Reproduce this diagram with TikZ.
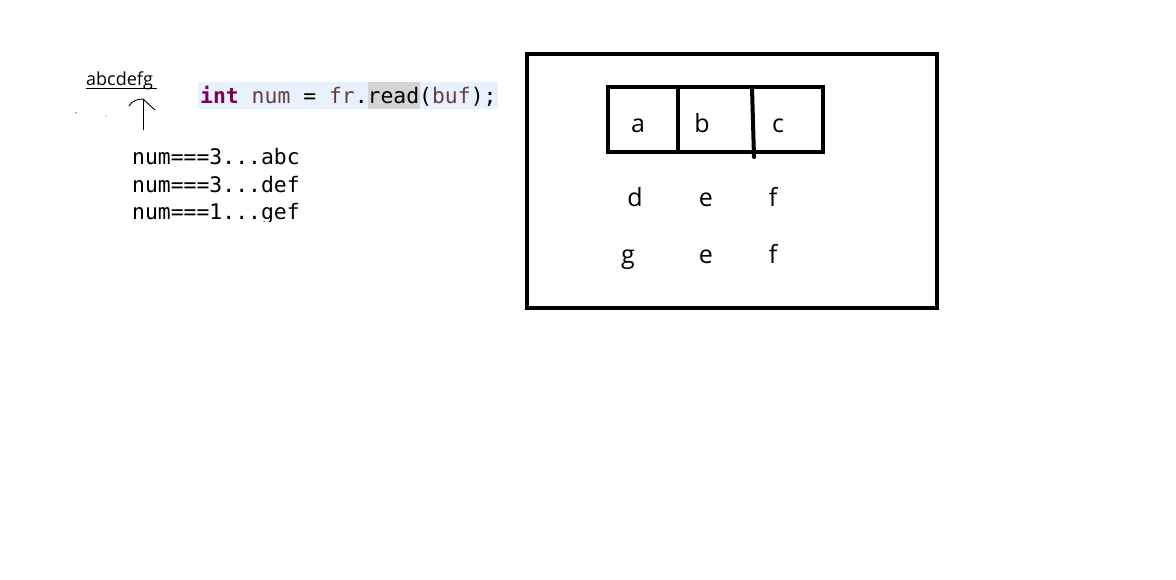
\documentclass[tikz,border=0pt]{standalone}
\usepackage{fontspec}
\setmainfont{Open Sans}
\newfontfamily\codefont{DejaVu Sans Mono}
\definecolor{kw}{HTML}{7F0055}
\definecolor{var}{HTML}{6A3E3E}
\definecolor{codebg}{HTML}{E8F2FE}
\definecolor{hl}{HTML}{D4D4D4}
\tikzset{
  frame/.style={line width=4pt, draw=black},
  cell/.style={font=\fontsize{25}{30}\selectfont, inner sep=0pt, anchor=base},
  code/.style={font=\codefont\fontsize{21.4}{25}\selectfont, inner sep=0pt, anchor=base west},
}
\begin{document}
\begin{tikzpicture}[x=1pt,y=-1pt]
\useasboundingbox[fill=white] (0,0) rectangle (1176,579);
% left: source text and arrow
\node[font=\fontsize{18}{21}\selectfont, inner sep=0pt, anchor=base west] (src) at (86,85) {abcdefg};
\draw[line width=1pt] (86,88.5) -- (157,88.5);
\coordinate (tip) at (143,99);
\coordinate (tail) at (143,130);
\draw[line width=0.9pt] (tail) -- (tip);
\draw[line width=0.9pt] (129,106) .. controls (132,101) and (137,99) .. (tip) -- (155,110);
\fill (76,113) circle (0.6);
\fill (106,116) circle (0.5);
% code line
\fill[codebg] (198,82) rectangle (498,109);
\fill[hl] (368,82) rectangle (420,109);
\node[code] (codeline) at (200,103) {\textcolor{kw}{\textbf{int}} \textcolor{var}{num} = \textcolor{var}{fr}.read(\textcolor{var}{buf});};
% output
\begin{scope}
\clip (100,130) rectangle (400,221);
\node[code] (o1) at (132,164.5) {num===3...abc};
\node[code] (o2) at (132,192) {num===3...def};
\node[code] (o3) at (132,219.5) {num===1...gef};
\end{scope}
% right box
\draw[frame] (527,54) rectangle (937,308);
\draw[frame] (608,87) rectangle (823,152);
\draw[frame] (678,87) -- (678,152);
\draw[frame, line cap=round] (752,88) -- (754,157);
\node[cell] (a) at (638,132) {a};
\node[cell] (b) at (702,132) {b};
\node[cell] (c) at (778,132) {c};
\node[cell] (d) at (635,206) {d};
\node[cell] (e1) at (706,206) {e};
\node[cell] (f1) at (773,206) {f};
\node[cell] (g) at (628,263) {g};
\node[cell] (e2) at (706,263) {e};
\node[cell] (f2) at (773,263) {f};
\end{tikzpicture}
\end{document}
